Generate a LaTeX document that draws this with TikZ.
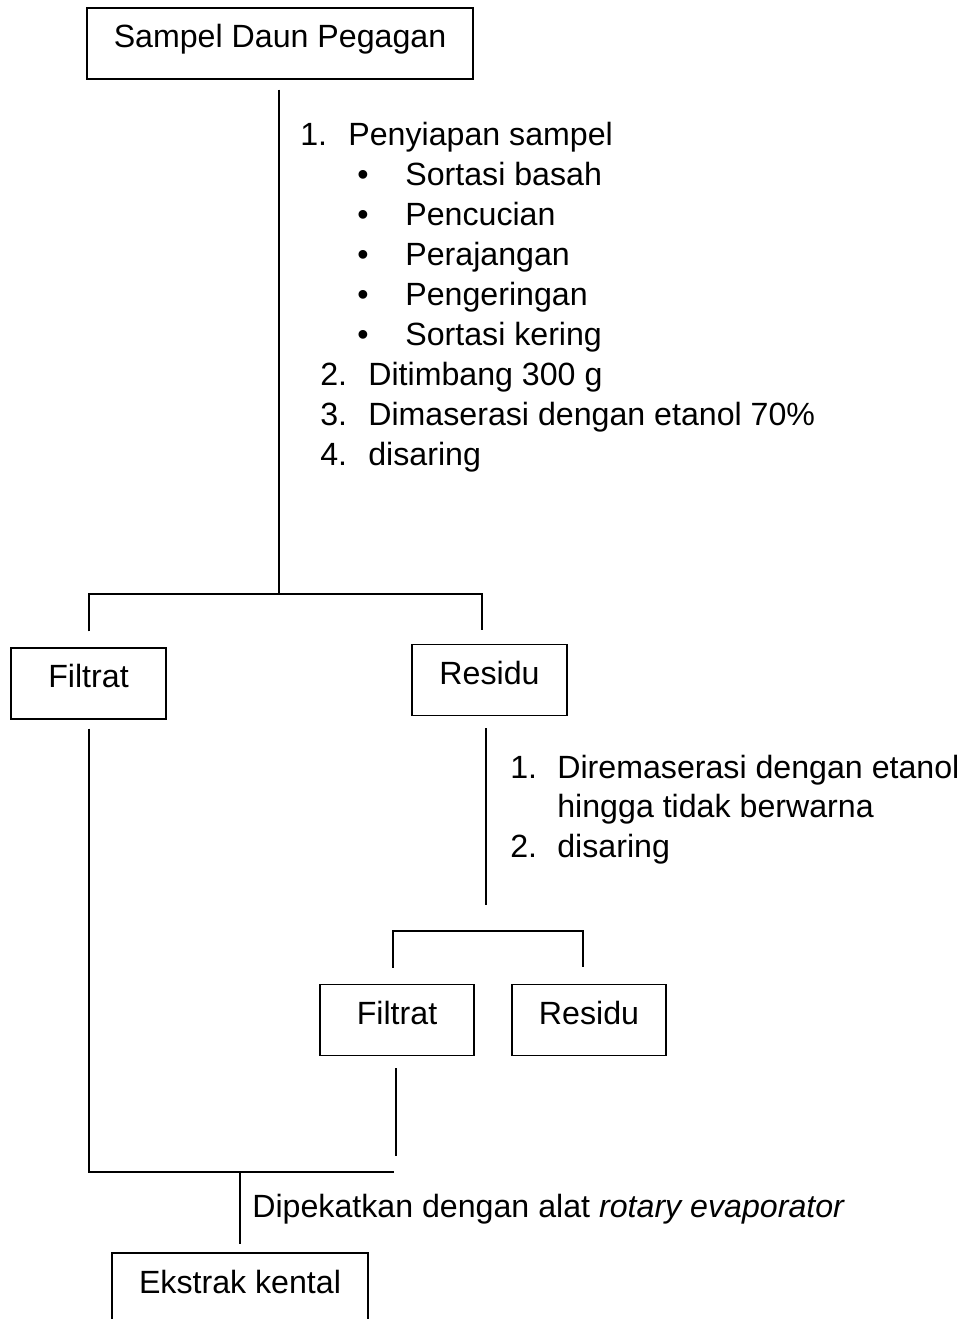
\documentclass[tikz,border=0pt]{standalone}
\usepackage{fontspec}
\setmainfont{Liberation Sans}
\usetikzlibrary{calc}

\tikzset{
  kotak/.style={draw, line width=0.7pt, inner sep=0pt, minimum height=1.42cm,
                text height=0.72em, text depth=0.24em},
  garis/.style={line width=1.1pt},
  teks/.style={anchor=base west, inner sep=0pt},
}

\begin{document}
\begin{tikzpicture}[x=0.02cm, y=-0.02cm, font=\fontsize{18.3}{22.7}\selectfont]
  \useasboundingbox (0,0) rectangle (977,1319);
  \clip (0,0) rectangle (977,1319);

  % kotak-kotak
  \node[kotak, minimum width=7.72cm] (sampel) at (280,43.5) {Sampel Daun Pegagan};
  \node[kotak, minimum width=3.1cm] (filtrat) at (88.5,683.5) {Filtrat};
  \node[kotak, minimum width=3.1cm] (residu) at (489.5,680) {Residu};
  \node[kotak, minimum width=3.08cm] (filtratdua) at (397,1020) {Filtrat};
  \node[kotak, minimum width=3.08cm] (residudua) at (589,1020) {Residu};
  \node[kotak, minimum width=5.12cm, minimum height=1.44cm] (ekstrak) at (240,1289) {Ekstrak kental};

  % titik cabang
  \coordinate (cabA) at (279,594);
  \coordinate (cabB) at (488,931);
  \coordinate (cabC) at (240,1172);

  % garis
  \draw[garis] ($(sampel.south)+(-1,10)$) -- (cabA);
  \draw[garis] ($(filtrat.north)+(0.5,-16)$) |- (cabA) -| ($(residu.north)+(-7.5,-14)$);
  \draw[garis] ($(filtrat.south)+(0.5,9)$) |- ($(filtratdua.south |- cabC)+(-3,0)$);
  \draw[garis] ($(residu.south)+(-3.5,12)$) -- ++(0,177);
  \draw[garis] ($(filtratdua.north)+(-4,-16)$) |- (cabB) -| ($(residudua.north)+(-6,-17)$);
  \draw[garis] ($(filtratdua.south)+(-1,12)$) -- ($(filtratdua.south |- cabC)+(-1,-16)$);
  \draw[garis] (cabC) -- ($(ekstrak.north)+(0,-8)$);

  % langkah pertama
  \node[teks] (nomor1) at (300,145.5) {1.};
  \node[teks] (siap) at (348,145.5) {Penyiapan sampel};
  \foreach \y/\teks [count=\i] in {185.5/Sortasi basah, 225.5/Pencucian,
      265.5/Perajangan, 305.5/Pengeringan, 345.5/Sortasi kering}
  {
    \node[teks] (poin\i) at (357,\y) {\textbullet};
    \node[teks] (sub\i) at (405,\y) {\teks};
  }
  \foreach \y/\no/\teks in {385.5/2/Ditimbang 300 g,
      425.5/3/Dimaserasi dengan etanol 70\%, 465.5/4/disaring}
  {
    \node[teks] (nomor\no) at (320,\y) {\no.};
    \node[teks] (langkah\no) at (368,\y) {\teks};
  }

  % remaserasi
  \node[teks] (rnomor1) at (510,778) {1.};
  \node[teks] (remaserasi) at (557,778) {Diremaserasi dengan etanol};
  \node[teks] (remaserasib) at (557,817) {hingga tidak berwarna};
  \node[teks] (rnomor2) at (510,857) {2.};
  \node[teks] (saring) at (557,857) {disaring};

  % pemekatan
  \node[teks] (pekat) at (252,1217) {Dipekatkan dengan alat \textit{rotary evaporator}};
\end{tikzpicture}
\end{document}
